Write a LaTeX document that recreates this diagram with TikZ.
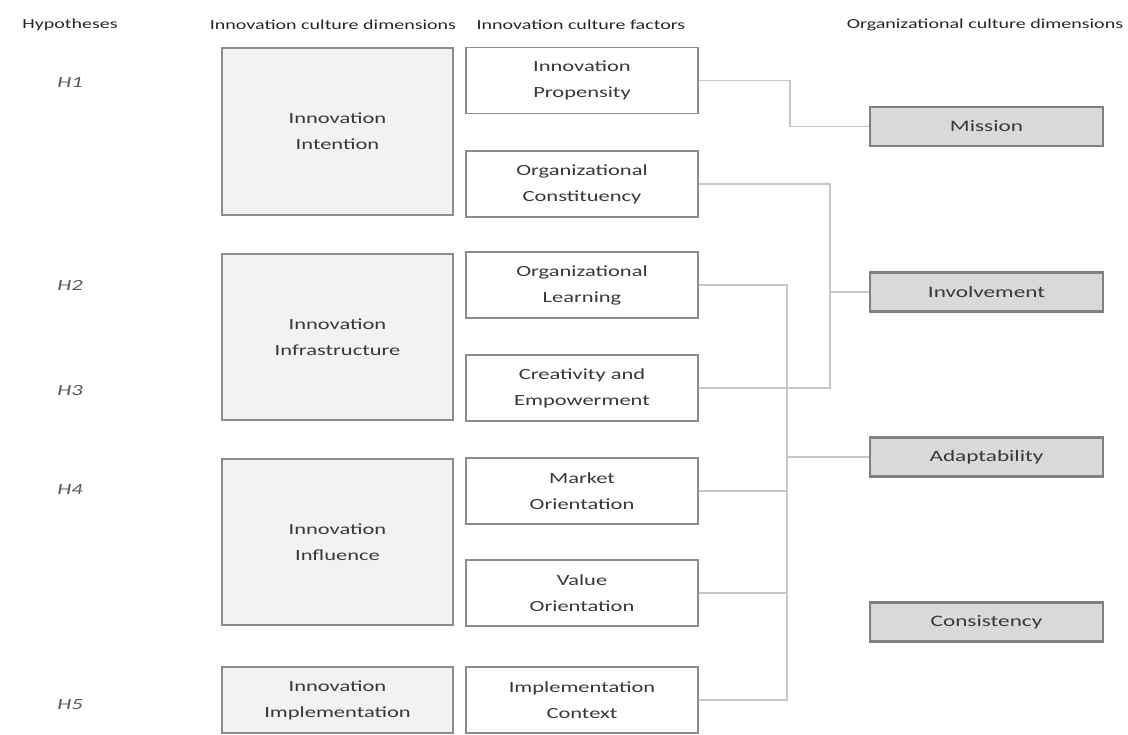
\documentclass[tikz,border=0pt]{standalone}
\usepackage{fontspec}
\setmainfont[FakeStretch=1.45]{Carlito}
\begin{document}
\begin{tikzpicture}[x=1pt,y=-1pt,
  txt/.style={text=black!78, font=\fontsize{15.5}{26}\selectfont, align=center},
  dimbox/.style={txt, draw=black!45, line width=1.4pt, fill=black!5, minimum width=231pt, inner sep=0pt},
  facbox/.style={txt, draw=black!45, line width=1.4pt, fill=white, minimum width=232pt, minimum height=66pt, inner sep=0pt},
  orgbox/.style={txt, draw=black!50, line width=2.2pt, fill=black!15, minimum width=233pt, minimum height=39pt, inner sep=0pt, font=\fontsize{16}{18}\selectfont},
  head/.style={text=black!85, font=\fontsize{13.8}{16}\selectfont},
  hyp/.style={text=black!65, font=\fontsize{15.5}{18}\selectfont\itshape},
  link/.style={draw=black!22, line width=1.8pt}]
\useasboundingbox (0,0) rectangle (1128,735);

% column headings
\node[head] (hHyp) at (70,25) {Hypotheses};
\node[head] (hDim) at (333,25) {Innovation culture dimensions};
\node[head] (hFac) at (581,25) {Innovation culture factors};
\node[head] (hOrg) at (985,25) {Organizational culture dimensions};

% hypotheses
\node[hyp] (h1) at (70,83) {H1};
\node[hyp] (h2) at (70,285) {H2};
\node[hyp] (h3) at (70,391) {H3};
\node[hyp] (h4) at (70,490) {H4};
\node[hyp] (h5) at (70,705) {H5};

% innovation culture dimensions
\node[dimbox, minimum height=167pt] (dint) at (337.5,131.5) {Innovation\\Intention};
\node[dimbox, minimum height=166pt] (dinf) at (337.5,337) {Innovation\\Infrastructure};
\node[dimbox, minimum height=166pt] (dinl) at (337.5,542) {Innovation\\Influence};
\node[dimbox, minimum height=66pt] (dimp) at (337.5,700) {Innovation\\Implementation};

% innovation culture factors
\node[facbox] (prop) at (582,80.5) {Innovation\\Propensity};
\node[facbox] (cons) at (582,184) {Organizational\\Constituency};
\node[facbox] (lear) at (582,285) {Organizational\\Learning};
\node[facbox] (crea) at (582,388) {Creativity and\\Empowerment};
\node[facbox] (mark) at (582,491) {Market\\Orientation};
\node[facbox] (valu) at (582,593) {Value\\Orientation};
\node[facbox] (impc) at (582,700) {Implementation\\Context};

% organizational culture dimensions
\node[orgbox] (miss) at (986.5,126.5) {Mission};
\node[orgbox] (invo) at (986.5,292) {Involvement};
\node[orgbox] (adap) at (986.5,457) {Adaptability};
\node[orgbox] (cnst) at (986.5,622) {Consistency};

% bus positions
\coordinate (busA) at (790,0);
\coordinate (busB) at (830,0);
\coordinate (busC) at (787,0);

% propensity -> mission
\draw[link] (prop.east) -- (prop.east -| busA) |- (miss.west);

% constituency, creativity -> involvement
\draw[link] (cons.east) -- (cons.east -| busB) -- (crea.east -| busB) -- (crea.east);
\draw[link] (invo.west -| busB) -- (invo.west);

% learning, market, value, context -> adaptability
\draw[link] (lear.east) -- (lear.east -| busC) -- (impc.east -| busC) -- (impc.east);
\draw[link] (mark.east) -- (mark.east -| busC);
\draw[link] (valu.east) -- (valu.east -| busC);
\draw[link] (adap.west -| busC) -- (adap.west);
\end{tikzpicture}
\end{document}
